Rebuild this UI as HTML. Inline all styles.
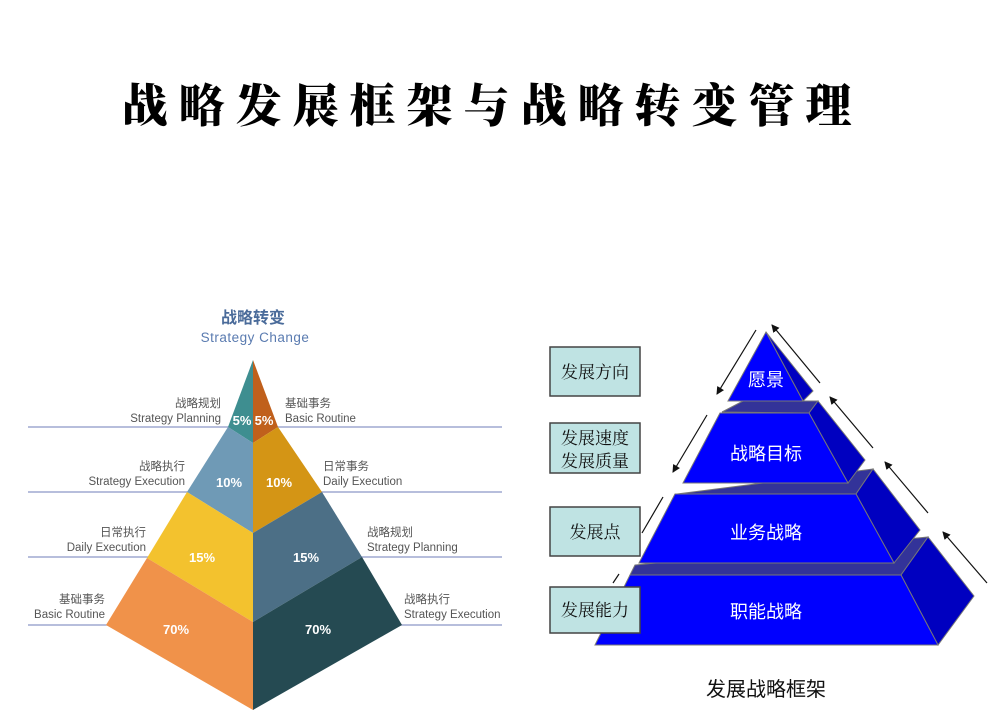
<!DOCTYPE html>
<html><head><meta charset="utf-8"><style>
html,body{margin:0;padding:0;background:#fff;width:1008px;height:722px;overflow:hidden}
</style></head><body>
<svg width="1008" height="722" viewBox="0 0 1008 722" xmlns="http://www.w3.org/2000/svg" font-family="Liberation Sans, Noto Sans CJK SC, sans-serif">
<defs>
<marker id="ah" markerWidth="8" markerHeight="8" refX="7" refY="4" orient="auto" markerUnits="userSpaceOnUse"><path d="M0,0 L8,4 L0,8 Z" fill="#111"/></marker>
</defs>
<text x="492" y="122" text-anchor="middle" font-family="Noto Serif CJK SC, serif" font-weight="900" font-size="46" letter-spacing="11" fill="#000">战略发展框架与战略转变管理</text>

<!-- left pyramid -->
<text x="253" y="323" text-anchor="middle" font-size="16" font-weight="bold" fill="#4a6b9a">战略转变</text>
<text x="255" y="342" text-anchor="middle" font-size="13.5" fill="#5a7bb0" letter-spacing="0.5">Strategy Change</text>
<g stroke="#8c98c8" stroke-width="1.3">
<line x1="28" y1="427" x2="502" y2="427"/><line x1="28" y1="492" x2="502" y2="492"/>
<line x1="28" y1="557" x2="502" y2="557"/><line x1="28" y1="625" x2="502" y2="625"/>
</g>
<polygon points="253,360 228,427 253,443" fill="#3e8e90"/>
<polygon points="253,360 278,427 253,443" fill="#c0601c"/>
<polygon points="228,427 187,492 253,533 253,443" fill="#6f9ab6"/>
<polygon points="278,427 322,492 253,533 253,443" fill="#d49515"/>
<polygon points="187,492 147,558 253,622 253,533" fill="#f3c22e"/>
<polygon points="322,492 362,557 253,622 253,533" fill="#4c6f86"/>
<polygon points="147,558 106,625 253,710 253,622" fill="#f0924a"/>
<polygon points="362,557 402,625 253,710 253,622" fill="#254a52"/>
<g fill="#fff" font-weight="bold" font-size="13" text-anchor="middle">
<text x="242" y="425">5%</text><text x="264" y="425">5%</text>
<text x="229" y="487">10%</text><text x="279" y="487">10%</text>
<text x="202" y="562">15%</text><text x="306" y="562">15%</text>
<text x="176" y="634">70%</text><text x="318" y="634">70%</text>
</g>
<g fill="#555" font-size="11.5">
<g text-anchor="end">
<text x="221" y="407">战略规划</text><text x="221" y="422">Strategy Planning</text>
<text x="185" y="470">战略执行</text><text x="185" y="485">Strategy Execution</text>
<text x="146" y="536">日常执行</text><text x="146" y="551">Daily Execution</text>
<text x="105" y="603">基础事务</text><text x="105" y="618">Basic Routine</text>
</g>
<text x="285" y="407">基础事务</text><text x="285" y="422">Basic Routine</text>
<text x="323" y="470">日常事务</text><text x="323" y="485">Daily Execution</text>
<text x="367" y="536">战略规划</text><text x="367" y="551">Strategy Planning</text>
<text x="404" y="603">战略执行</text><text x="404" y="618">Strategy Execution</text>
</g>

<!-- right pyramid -->
<g stroke="#777" stroke-width="1">
<!-- layer4 -->
<polygon points="635,565 928,537 901,575 630,575" fill="#333399"/>
<polygon points="901,575 928,537 974,596 938,645" fill="#0000c0"/>
<polygon points="630,575 901,575 938,645 595,645" fill="#0000ff"/>
<!-- layer3 -->
<polygon points="677,494 873,469 856,494 675,494" fill="#333399"/>
<polygon points="856,494 873,469 920,530 894,563" fill="#0000c0"/>
<polygon points="675,494 856,494 894,563 639,563" fill="#0000ff"/>
<!-- layer2 -->
<polygon points="722,412 743,401 818,401 809,413" fill="#333399"/>
<polygon points="809,413 818,401 865,460 848,483" fill="#0000c0"/>
<polygon points="720,413 809,413 848,483 683,483" fill="#0000ff"/>
<!-- layer1 -->
<polygon points="766,332 813,391 803,401" fill="#0000c0"/>
<polygon points="766,332 803,401 728,401" fill="#0000ff"/>
</g>
<g fill="#fff" font-size="18" text-anchor="middle">
<text x="766" y="386">愿景</text>
<text x="766" y="460">战略目标</text>
<text x="766" y="539">业务战略</text>
<text x="766" y="618">职能战略</text>
</g>
<g stroke="#111" stroke-width="1.2">
<line x1="756" y1="330" x2="717" y2="394" marker-end="url(#ah)"/>
<line x1="707" y1="415" x2="673" y2="472" marker-end="url(#ah)"/>
<line x1="663" y1="497" x2="642" y2="533"/>
<line x1="619" y1="574" x2="613" y2="583"/>
<line x1="820" y1="383" x2="772" y2="325" marker-end="url(#ah)"/>
<line x1="873" y1="448" x2="830" y2="397" marker-end="url(#ah)"/>
<line x1="928" y1="513" x2="885" y2="462" marker-end="url(#ah)"/>
<line x1="987" y1="583" x2="943" y2="532" marker-end="url(#ah)"/>
</g>
<g fill="#bfe3e3" stroke="#444" stroke-width="1.5">
<rect x="550" y="347" width="90" height="49"/>
<rect x="550" y="423" width="90" height="50"/>
<rect x="550" y="507" width="90" height="49"/>
<rect x="550" y="587" width="90" height="46"/>
</g>
<g fill="#111" font-family="Noto Serif CJK SC, serif" font-size="17" text-anchor="middle">
<text x="595" y="378">发展方向</text>
<text x="595" y="444">发展速度</text>
<text x="595" y="467">发展质量</text>
<text x="595" y="538">发展点</text>
<text x="595" y="616">发展能力</text>
</g>
<text x="766" y="696" text-anchor="middle" font-size="20" fill="#111" font-family="Noto Sans CJK SC, sans-serif">发展战略框架</text>
</svg>
</body></html>
